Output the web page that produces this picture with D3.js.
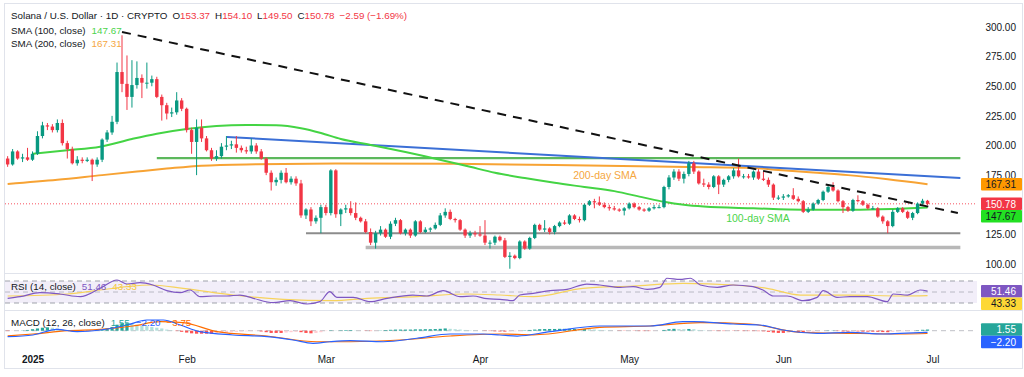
<!DOCTYPE html>
<html>
<head>
<meta charset="utf-8">
<script src="https://cdn.jsdelivr.net/npm/d3@7"></script>
<style>
  body { margin: 0; background: #fff; }
  svg text { font-family: "Liberation Sans", Arial, sans-serif; }
</style>
</head>
<body>
<svg id="chart" width="1024" height="377"></svg>
<script>
// daily SOL/USD candles, first candle 2024-12-27
const firstDay = Date.UTC(2024, 11, 27)
const opens = [
  189,184,195,189,190,188,193,208,217,216,
  213,219,202,197,185,188,187,188,184,188,
  205,211,220,262,252,241,251,257,253,253,
  256,241,234,227,228,238,231,213,203,215,
  206,196,189,191,199,200,201,198,196,195,
  200,195,189,177,169,171,177,169,172,168,
  141,146,136,139,148,143,179,142,146,147,
  143,139,136,127,118,126,129,123,134,137,
  126,129,124,136,127,129,130,133,141,144,
  138,137,129,124,126,125,124,118,118,123,
  120,106,107,105,119,113,122,133,129,130,
  127,132,135,134,141,138,137,150,153,152,
  150,148,147,146,145,147,151,148,146,145,
  147,148,148,165,173,178,172,176,185,178,
  168,167,165,174,167,171,174,179,174,174,
  173,178,172,171,167,156,156,157,158,155,
  153,144,146,151,154,161,165,162,153,148,
  145,154,153,150,147,147,140,136,132,144,
  147,144,139,143,151,153.37]
const highs = [
  191,197,196,193,198,195,212,220,219,218,
  222,222,204,199,191,190,190,189,190,206,
  213,225,270,293,276,272,271,260,270,259,
  258,243,236,232,245,240,232,215,222,222,
  208,198,196,202,208,204,208,200,199,206,
  202,197,190,179,173,179,181,174,174,171,
  147,148,141,150,150,180,180,147,150,153,
  152,140,138,130,128,132,130,136,139,138,
  130,130,137,137,131,131,135,143,147,146,
  139,138,130,128,128,132,137,120,124,124,
  122,110,108,120,120,123,134,134,137,131,
  133,136,137,142,142,140,151,154,155,157,
  152,150,149,147,148,152,152,149,147,148,
  150,150,166,175,180,180,178,187,187,179,
  172,169,175,175,172,175,181,189,176,176,
  179,180,178,173,168,158,159,159,164,157,
  154,148,152,155,162,166,169,163,154,149,
  155,158,154,151,149,148,141,137,146,148,
  148,145,144,152,155,154.10]
const lows = [
  182,183,188,186,187,187,192,206,213,211,
  211,200,189,184,183,185,186,170,182,186,
  203,209,218,245,230,232,248,240,248,250,
  240,221,222,224,226,229,211,193,175,203,
  195,187,187,189,196,197,194,194,193,193,
  193,188,175,162,166,168,168,167,166,139,
  138,132,134,126,141,141,139,132,143,141,
  137,135,126,116,113,124,122,121,132,125,
  124,122,123,126,126,127,129,132,139,137,
  135,128,122,122,123,123,116,113,116,119,
  105,96,104,104,112,112,121,128,127,125,
  125,131,133,133,137,135,136,149,147,149,
  147,145,145,144,141,146,147,145,144,144,
  146,147,147,163,171,170,168,174,176,167,
  165,163,164,159,165,169,172,173,172,172,
  171,171,170,165,154,154,154,156,154,152,
  143,143,145,150,153,160,161,152,143,144,
  144,152,149,146,146,139,134,126,131,143,
  143,138,137,142,150,149.50]
const closes = [
  184,195,189,190,188,193,208,217,216,213,
  219,202,197,185,188,187,188,184,188,205,
  211,220,262,252,241,251,257,253,253,256,
  241,234,227,228,238,231,213,203,215,206,
  196,189,191,199,200,201,198,196,195,200,
  195,189,177,169,171,177,169,172,168,141,
  146,136,139,148,143,179,142,146,147,143,
  139,136,127,118,126,129,123,134,137,126,
  129,124,136,127,129,130,133,141,144,138,
  137,129,124,126,125,124,118,118,123,120,
  106,107,105,119,113,122,133,129,130,127,
  132,135,134,141,138,137,150,153,152,150,
  148,147,146,145,147,151,148,146,145,147,
  148,148,165,173,178,172,176,185,178,168,
  167,165,174,167,171,174,179,174,174,173,
  178,172,171,167,156,156,157,158,155,153,
  144,146,151,154,161,165,162,153,148,145,
  154,153,150,147,147,140,136,132,144,147,
  144,139,143,151,153.37,150.78]

// moving averages: [day index, value]
const sma100 = [[5,193],[12,196],[18.6,199],[25,205.5],[30,210],[36,214],[42,216.5],[48,217.3],[54,217],
  [59,214.5],[63,210.5],[67,205.5],[73,200.5],[80,194.5],[88,187],[93,182],[98,177],[104,172.5],
  [110,168.5],[116,165],[122,161.5],[128,156],[132,152.5],[136,150],[140,148.5],[150,147],
  [160,145.8],[170,145.8],[178,146.5],[185,147.67]]
const sma200 = [[0,167.5],[10,171],[19,175],[26,178],[32,180.5],[39,183],[50,184.2],[66,184.8],
  [90,184.5],[110,183.5],[137,181.8],[150,181],[155,179.3],[162,177.2],[169,175],[177,171.5],[185,167.31]]

// drawn trend lines: [day index, price]
const resistDashed = [[23,295.8],[191.1,143]]
const resistBlue = [[44.1,207.2],[191.6,172.6]]
const levelGreen = [[30,189.3],[191.6,189.3]]
const supportGray1 = [[60,126],[191.6,126]]
const supportGray2 = [[72,114],[191.6,114]]

// RSI(14) and its moving average
const rsiLine = [[0,38.5],[2.5,41.5],[6.5,48.8],[10.5,46.4],[14.6,41.5],[18.6,56.7],[22,71.8],[24,64.5],
  [26.6,67],[29.2,62.7],[32,52.4],[34.7,48.8],[36.7,53.6],[38.7,41.5],[41.3,42.7],[44.1,42.7],
  [46.7,44.5],[49.4,38.5],[53.4,30.6],[56.8,34.2],[60.2,28.2],[62.8,32.4],[64.8,50.6],[66.2,40.3],
  [69.5,40.3],[72.9,32.4],[76.3,38.5],[81.5,44.5],[84.3,42.7],[87.6,52.4],[91,41.5],[93.6,42.7],
  [96.4,37.8],[99,36.7],[101.6,34.2],[103,44.5],[105.7,47.6],[109.1,52.4],[112.5,54.8],[116.5,64.5],
  [119.1,62.7],[123.2,58.5],[125.8,59.7],[128.6,54.8],[131.2,58.5],[132.6,75],[135.2,73],[137.3,75],
  [139.3,62.7],[142.7,58.5],[145.9,62.7],[149.9,59.7],[151.9,53.6],[154,42.7],[156.8,42.7],[160,34.2],
  [162.8,40.3],[164,52.4],[166.8,40.3],[169.4,41.5],[172.9,41.5],[176.9,32.4],[178.1,46.4],[181,44.5],
  [183.5,53.6],[185,51.46]]
const rsiMa = [[0,42.7],[12,46.4],[18.6,53.6],[24,59.7],[28.6,62.7],[35.3,56.7],[45.3,44.5],[55.4,36.7],
  [65.4,34.2],[72.3,38.5],[82.3,41.5],[92.4,46.4],[99,44.5],[105.7,41.5],[115.7,56.7],[125.8,60.9],
  [135.8,65.8],[145.9,62.7],[152.7,56.7],[159.4,44.5],[169.4,44.5],[179.5,42.7],[185,43.33]]
const rsiLevels = [70, 50, 30]

// MACD(12, 26): line, signal, daily histogram
const macdLine = [[0,-8],[5.1,-5.7],[9.9,1.8],[14,-1.3],[18.6,0.9],[24,7.6],[28,14.3],[31.3,14.3],
  [34.7,7.6],[38.7,-1.3],[45.3,-5.7],[52.2,-8],[57.4,-12.4],[61.4,-16.8],[64.8,-14.7],[68.9,-13.3],
  [75.5,-14.7],[82.3,-10.1],[89,-4.4],[95.6,-4.4],[99,-5.7],[102.5,-7.1],[109.1,-1.3],[119.1,6.3],
  [129.2,6.3],[135.8,12],[137.9,12],[145.9,8.9],[151.3,7.6],[156,0.9],[162.8,-3.5],[169.4,-2.1],
  [176.1,-4.4],[179.5,-3.5],[185,-2.2]]
const macdSignal = [[0,-7],[5.1,-4.4],[12,0],[18.6,1.8],[25.2,6.3],[30.7,12],[35.3,10.7],[42.1,-1.3],
  [52.2,-7.1],[62.2,-14.7],[68.9,-14.7],[78.9,-12.4],[89,-7.1],[99,-4.4],[105.7,-5.5],[119.1,4.5],
  [129.2,6.3],[139.3,10.7],[149.3,8.9],[159.4,-2.1],[169.4,-3.5],[179.5,-4.4],[185,-3.75]]
const macdHist = [
  -0.5,-0.3,0,0.3, 1,2,3,4,4.5,4,3,2, -0.5,-1,-1.5,-1.5,-1,-0.5, 0.5,1.5,3,5,8,
  10,10,9,8,7,6,5,4, 3,1.5,0.5,-0.5,-1.5,-2.5, -3.5,-4,-4,-4,-4,-3.5,
  -3,-2.5,-2,-1.5,-1,-0.8,-0.6,-0.5, -1,-2,-3,-3,-3, -2.5,-2,-1.5, -2,-3,-3.5,-3,-2,
  -0.5,0.5,0.3,0.5,0.8,0.8, 0.3,0,-0.3,-0.5,-0.3,
  0.3,0.8,1.2,1.5,1.5,1.5,1.5,1.8,1.8,2,2,2.2, 2.5,3,2.5,2, 1.5,1,0.5,0.3,0,-0.3,
  -0.5,-0.8,-1,-1.2,-1,-0.8, -0.3,0.5,1,1.5,2,2.2,2.3,2.3, 2.5,2.5,2.5,2.5,2.2,2.3,2,1.5,
  1,0.5,0.3,0,-0.3,-0.3,-0.2, -0.3,-0.5,-0.5,-0.5,-0.3,0, 1,2,2.5,2.2,2,2.3,2,
  1,0.5,0,-0.3,-0.5,-0.5,-0.3, -0.3,-0.3,-0.5,-0.5,-0.5,-0.6,-0.8,
  -1.5,-2.5,-3,-3,-2.5,-2, -2,-2.5,-2,-1.5, -0.8,-0.2,0.3,0.3,-0.5,-1,
  -1.2,-1,-1,-1.2,-1.3,-1.3,-1.5,-1.8, -2,-1.5,-1,-0.8,-0.6,-0.3, 0.5,1.2,1.55]

const priceTicks = [100, 125, 150, 175, 200, 225, 250, 275, 300]
const monthTicks = ["2025-01-01","2025-02-01","2025-03-01","2025-04-01","2025-05-01","2025-06-01","2025-07-01"]
const monthLabels = ["2025","Feb","Mar","Apr","May","Jun","Jul"]

const lastPrice = 150.78
const sma100Last = 147.67
const sma200Last = 167.31

const svg = d3.select("#chart")
const plotL = 5, plotR = 977
const mainTop = 3, mainBottom = 273
const rsiTop = 273, rsiBottom = 310
const macdTop = 310, macdBottom = 350
const fs = 9.8

const dateAt = i => new Date(firstDay + i * 864e5)
const x = d3.scaleUtc()
  .domain([new Date(Date.UTC(2025,0,1)), new Date(Date.UTC(2025,6,1))])
  .range([32.5, 932.5])
const xi = i => x(dateAt(i))
const y = d3.scaleLinear().domain([100, 300]).range([264, 27])
const yRsi = d3.scaleLinear().domain([30, 70]).range([303, 281])
const yMacd = d3.scaleLinear().domain([-10, 10]).range([338.2, 323.2])

// clip paths for each pane
let defs = svg.append("defs")
function clip(id, top, bottom) {
  defs.append("clipPath").attr("id", id).append("rect")
    .attr("x", plotL).attr("y", top).attr("width", plotR - plotL).attr("height", bottom - top)
}
clip("clipMain", mainTop, mainBottom)
clip("clipRsi", rsiTop, rsiBottom)
clip("clipMacd", macdTop, macdBottom)

// frame + pane separators
svg.append("rect").attr("x", 4.5).attr("y", 3.5).attr("width", 1018).attr("height", 365)
  .attr("fill", "none").attr("stroke", "#e0e3eb")
svg.selectAll("line.sep").data([mainBottom, rsiBottom]).join("line")
  .attr("class", "sep")
  .attr("x1", 4.5).attr("x2", 1022.5).attr("y1", d => d + 0.5).attr("y2", d => d + 0.5)
  .attr("stroke", "#e0e3eb")

// ---------- main pane ----------
let main = svg.append("g").attr("clip-path", "url(#clipMain)")

let lineXY = d3.line().x(d => xi(d[0])).y(d => y(d[1]))
let smoothXY = d3.line().x(d => xi(d[0])).y(d => y(d[1])).curve(d3.curveMonotoneX)

// last price dotted line
main.append("line")
  .attr("x1", plotL).attr("x2", plotR).attr("y1", y(lastPrice)).attr("y2", y(lastPrice))
  .attr("stroke", "#f7525f").attr("stroke-width", 1).attr("stroke-dasharray", "1,2")

main.append("path").attr("d", smoothXY(sma200))
  .attr("fill", "none").attr("stroke", "#f7a334").attr("stroke-width", 2)
main.append("path").attr("d", lineXY(levelGreen))
  .attr("fill", "none").attr("stroke", "#5cb85c").attr("stroke-width", 2.2)
main.append("path").attr("d", lineXY(supportGray2))
  .attr("fill", "none").attr("stroke", "#b8b8b8").attr("stroke-width", 3.5)
main.append("path").attr("d", lineXY(supportGray1))
  .attr("fill", "none").attr("stroke", "#8c8c8c").attr("stroke-width", 2)
main.append("path").attr("d", lineXY(resistBlue))
  .attr("fill", "none").attr("stroke", "#3b6fd6").attr("stroke-width", 2)
main.append("path").attr("d", smoothXY(sma100))
  .attr("fill", "none").attr("stroke", "#44d444").attr("stroke-width", 2)

// candles
let candles = main.append("g").selectAll("g")
  .data(closes.map((c, i) => ({i: i, o: opens[i], h: highs[i], l: lows[i], c: c})))
  .join("g")
candles.append("line")
  .attr("x1", d => xi(d.i)).attr("x2", d => xi(d.i))
  .attr("y1", d => y(d.h)).attr("y2", d => y(d.l))
  .attr("stroke", d => d.c >= d.o ? "#089981" : "#f23645")
candles.append("rect")
  .attr("x", d => xi(d.i) - 1.7).attr("width", 3.4)
  .attr("y", d => y(Math.max(d.o, d.c)))
  .attr("height", d => Math.max(1, Math.abs(y(d.o) - y(d.c))))
  .attr("fill", d => d.c >= d.o ? "#089981" : "#f23645")

main.append("path").attr("d", lineXY(resistDashed))
  .attr("fill", "none").attr("stroke", "#111").attr("stroke-width", 2).attr("stroke-dasharray", "9,7")

main.append("text").attr("x", 605).attr("y", 178.5).attr("text-anchor", "middle")
  .attr("font-size", 10.5).attr("fill", "#f5a742").text("200-day SMA")
main.append("text").attr("x", 758).attr("y", 221.5).attr("text-anchor", "middle")
  .attr("font-size", 10.5).attr("fill", "#4cd44c").text("100-day SMA")

// ---------- RSI pane ----------
let rsi = svg.append("g").attr("clip-path", "url(#clipRsi)")
let rsiXY = d3.line().x(d => xi(d[0])).y(d => yRsi(d[1])).curve(d3.curveMonotoneX)
rsi.append("rect").attr("x", plotL).attr("width", plotR - plotL)
  .attr("y", yRsi(70)).attr("height", yRsi(30) - yRsi(70))
  .attr("fill", "#7e57c2").attr("fill-opacity", 0.1)
rsi.selectAll("line.lvl").data(rsiLevels).join("line")
  .attr("class", "lvl")
  .attr("x1", plotL).attr("x2", plotR).attr("y1", d => yRsi(d)).attr("y2", d => yRsi(d))
  .attr("stroke", "#9598a1").attr("stroke-dasharray", "5,4").attr("stroke-opacity", d => d == 50 ? 0.6 : 0.9)
rsi.append("path").attr("d", rsiXY(rsiMa))
  .attr("fill", "none").attr("stroke", "#f7d35c").attr("stroke-width", 1.2)
rsi.append("path").attr("d", rsiXY(rsiLine))
  .attr("fill", "none").attr("stroke", "#7e57c2").attr("stroke-width", 1.2)

// ---------- MACD pane ----------
let macd = svg.append("g").attr("clip-path", "url(#clipMacd)")
let macdXY = d3.line().x(d => xi(d[0])).y(d => yMacd(d[1])).curve(d3.curveMonotoneX)
macd.append("line").attr("x1", plotL).attr("x2", plotR)
  .attr("y1", yMacd(0)).attr("y2", yMacd(0))
  .attr("stroke", "#9598a1").attr("stroke-dasharray", "5,4").attr("stroke-opacity", 0.6)
macd.selectAll("rect.hist").data(macdHist).join("rect")
  .attr("class", "hist")
  .attr("x", (d, i) => xi(i) - 1.6).attr("width", 3.2)
  .attr("y", d => Math.min(yMacd(d), yMacd(0)))
  .attr("height", d => Math.abs(yMacd(d) - yMacd(0)))
  .attr("fill", (d, i) => {
    let prev = i > 0 ? macdHist[i - 1] : d
    if (d >= 0) return d >= prev ? "#26a69a" : "#b2dfdb"
    return d <= prev ? "#ff5252" : "#ffcdd2"
  })
macd.append("path").attr("d", macdXY(macdSignal))
  .attr("fill", "none").attr("stroke", "#ff6d00").attr("stroke-width", 1.2)
macd.append("path").attr("d", macdXY(macdLine))
  .attr("fill", "none").attr("stroke", "#2962ff").attr("stroke-width", 1.2)

// ---------- axes ----------
let yAxis = svg.append("g").attr("transform", "translate(1016,0)")
  .call(d3.axisLeft(y).tickValues(priceTicks).tickFormat(d3.format(".2f")).tickSize(0).tickPadding(0))
yAxis.select(".domain").remove()
yAxis.selectAll("text").attr("font-size", 10).attr("fill", "#131722")

let xAxis = svg.append("g").attr("transform", "translate(0,351)")
  .call(d3.axisBottom(x).tickValues(monthTicks.map(s => new Date(s + "T00:00:00Z")))
    .tickFormat((d, i) => monthLabels[i]).tickSize(0).tickPadding(5))
xAxis.select(".domain").remove()
xAxis.selectAll("text").attr("font-size", 10).attr("fill", "#131722")
  .attr("font-weight", (d, i) => i == 0 ? "bold" : "normal")

// ---------- price-scale tags ----------
function drawTags(tags) {
  tags.sort((a, b) => a.y - b.y)
  let prevBottom = -Infinity
  for (let t of tags) {
    let top = Math.max(t.y - 6.25, prevBottom)
    svg.append("rect").attr("x", 981).attr("y", top).attr("width", 41).attr("height", 12.5)
      .attr("rx", 1).attr("fill", t.bg)
    svg.append("text").attr("x", 1016).attr("y", top + 10).attr("text-anchor", "end")
      .attr("font-size", 10).attr("fill", t.fg).text(t.label)
    prevBottom = top + 12.5
  }
}
drawTags([
  {y: y(sma200Last), label: "167.31", bg: "#ff9800", fg: "#131722"},
  {y: y(lastPrice), label: "150.78", bg: "#f23645", fg: "#fff"},
  {y: y(sma100Last), label: "147.67", bg: "#22e022", fg: "#131722"}
])
drawTags([
  {y: yRsi(51.46), label: "51.46", bg: "#7e57c2", fg: "#fff"},
  {y: yRsi(43.33), label: "43.33", bg: "#fdd835", fg: "#131722"}
])
drawTags([
  {y: yMacd(1.55), label: "1.55", bg: "#26a69a", fg: "#fff"},
  {y: yMacd(-2.2), label: "\u22122.20", bg: "#2962ff", fg: "#fff"}
])

// ---------- legends ----------
function legend(yPos, parts) {
  let t = svg.append("text").attr("x", 11).attr("y", yPos).attr("font-size", fs)
  parts.forEach((p, k) => {
    t.append("tspan").attr("fill", p[1]).attr("dx", k == 0 ? 0 : p[2] || 0).text(p[0])
  })
}
const red = "#f23645", dark = "#131722"
legend(19, [["Solana / U.S. Dollar \u00b7 1D \u00b7 CRYPTO", dark], ["O", dark, 5], ["153.37", red], ["H", dark, 5],
  ["154.10", red], ["L", dark, 5], ["149.50", red], ["C", dark, 5], ["150.78", red], ["\u22122.59 (\u22121.69%)", red, 5]])
legend(33.5, [["SMA (100, close)", dark], ["147.67", "#4cd44c", 6]])
legend(47, [["SMA (200, close)", dark], ["167.31", "#f5a742", 6]])
legend(289.5, [["RSI (14, close)", dark], ["51.46", "#7e57c2", 6], ["43.33", "#f5c842", 6]])
legend(325.5, [["MACD (12, 26, close)", dark], ["1.55", "#26a69a", 6], ["\u22122.20", "#2962ff", 6], ["\u22123.75", "#ff6d00", 6]])
</script>
</body>
</html>
